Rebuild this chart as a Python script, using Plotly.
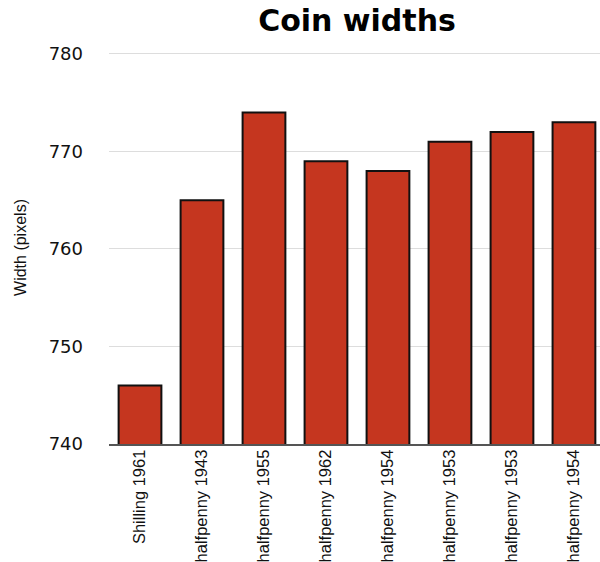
import plotly.graph_objects as go

categories = ["Shilling 1961", "halfpenny 1943", "halfpenny 1955", "halfpenny 1962",
              "halfpenny 1954", "halfpenny 1953", "halfpenny 1953", "halfpenny 1954"]
widths = [746, 765, 774, 769, 768, 771, 772, 773]
y_ticks = [740, 750, 760, 770, 780]

x_idx = list(range(len(categories)))

fig = go.Figure(go.Bar(
    x=x_idx, y=widths,
    marker=dict(color="#c5361f", line=dict(color="#111111", width=2)),
    width=0.69,
))

fig.update_layout(
    width=600, height=562,
    margin=dict(l=109, r=0, t=51, b=115),
    paper_bgcolor="white", plot_bgcolor="white",
    showlegend=False,
    title=dict(text="<b>Coin widths</b>", x=357/600, xanchor="center", y=1-20/562, yanchor="middle",
               font=dict(family="DejaVu Sans", size=30, color="#000000")),
    xaxis=dict(range=[-0.5, 7.42], tickmode="array", tickvals=x_idx, ticktext=categories,
               tickangle=-90, showgrid=False, showline=True, linecolor="#555555", linewidth=2,
               ticks="", tickfont=dict(family="Liberation Sans", size=16.5, color="#111111"),
               ticklabelstandoff=-3, zeroline=False),
    yaxis=dict(range=[740, 780.3], tickvals=y_ticks, showgrid=True, gridcolor="#dddddd", gridwidth=1,
               showline=False, zeroline=False, ticks="", ticklabelstandoff=25,
               tickfont=dict(family="DejaVu Sans", size=18, color="#111111"),
               title=dict(text="Width (pixels)", standoff=18,
                          font=dict(family="Liberation Sans", size=16, color="#111111"))),
)

fig.write_html("out.html")
